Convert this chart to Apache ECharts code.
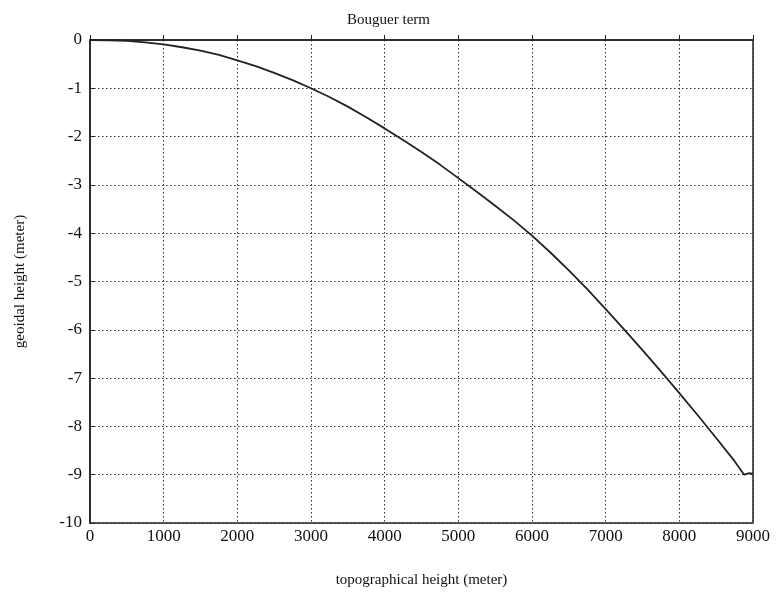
<!DOCTYPE html>
<html>
<head>
<meta charset="utf-8">
<script src="https://cdn.jsdelivr.net/npm/echarts@6/dist/echarts.min.js"></script>
<style>
html,body{margin:0;padding:0;background:#fff;}
#chart{width:777px;height:594px;}
</style>
</head>
<body>
<div id="chart"></div>
<script>
// Topographical height (m) and resulting geoidal height (m) from the Bouguer term
const heights = [0, 250, 500, 750, 1000, 1250, 1500, 1750, 2000, 2250, 2500, 2750, 3000, 3250, 3500, 3750, 4000, 4250, 4500, 4750, 5000, 5250, 5500, 5750, 6000, 6250, 6500, 6750, 7000, 7250, 7500, 7750, 8000, 8250, 8500, 8750, 8880, 8940, 9000];
const geoidal = [0, -0.005, -0.02, -0.05, -0.09, -0.15, -0.22, -0.31, -0.42, -0.54, -0.68, -0.83, -1.0, -1.18, -1.38, -1.60, -1.83, -2.07, -2.32, -2.58, -2.86, -3.14, -3.43, -3.73, -4.05, -4.40, -4.77, -5.16, -5.57, -5.99, -6.42, -6.86, -7.31, -7.77, -8.24, -8.72, -9.0, -8.97, -8.98];

const titleText = 'Bouguer term';
const xName = 'topographical height (meter)';
const yName = 'geoidal height (meter)';

const serif = 'Liberation Serif';
const chart = echarts.init(document.getElementById('chart'));

chart.setOption({
  animation: false,
  backgroundColor: '#fff',
  title: {
    text: titleText,
    left: 'center',
    top: 8,
    textStyle: { fontFamily: serif, fontSize: 15, fontWeight: 'normal', color: '#111' }
  },
  grid: {
    left: 90, top: 40, width: 663, height: 483,
    show: true, borderColor: '#222', borderWidth: 1.5, backgroundColor: 'transparent'
  },
  xAxis: {
    type: 'value', min: 0, max: 9000, interval: 1000,
    name: xName, nameLocation: 'middle', nameGap: 50,
    nameTextStyle: { fontFamily: serif, fontSize: 15, color: '#111' },
    axisLine: { show: true, lineStyle: { color: '#222', width: 1.5 } },
    axisTick: { show: true, inside: true, length: 5, lineStyle: { color: '#222' } },
    axisLabel: { fontFamily: serif, fontSize: 17, color: '#111', margin: 5, formatter: v => String(v) },
    splitLine: { show: true, lineStyle: { color: '#333', type: [1.5, 2.5], width: 1 } }
  },
  yAxis: {
    type: 'value', min: -10, max: 0, interval: 1,
    name: yName, nameLocation: 'middle', nameGap: 62, nameRotate: 90,
    nameTextStyle: { fontFamily: serif, fontSize: 15, color: '#111' },
    axisLine: { show: true, lineStyle: { color: '#222', width: 1.5 } },
    axisTick: { show: true, inside: true, length: 5, lineStyle: { color: '#222' } },
    axisLabel: { fontFamily: serif, fontSize: 17, color: '#111', margin: 8, formatter: v => String(v) },
    splitLine: { show: true, lineStyle: { color: '#333', type: [1.5, 2.5], width: 1 } }
  },
  series: [{
    type: 'line',
    data: heights.map((h, i) => [h, geoidal[i]]),
    smooth: false,
    showSymbol: false,
    lineStyle: { color: '#222', width: 1.8 }
  }]
});
</script>
</body>
</html>
